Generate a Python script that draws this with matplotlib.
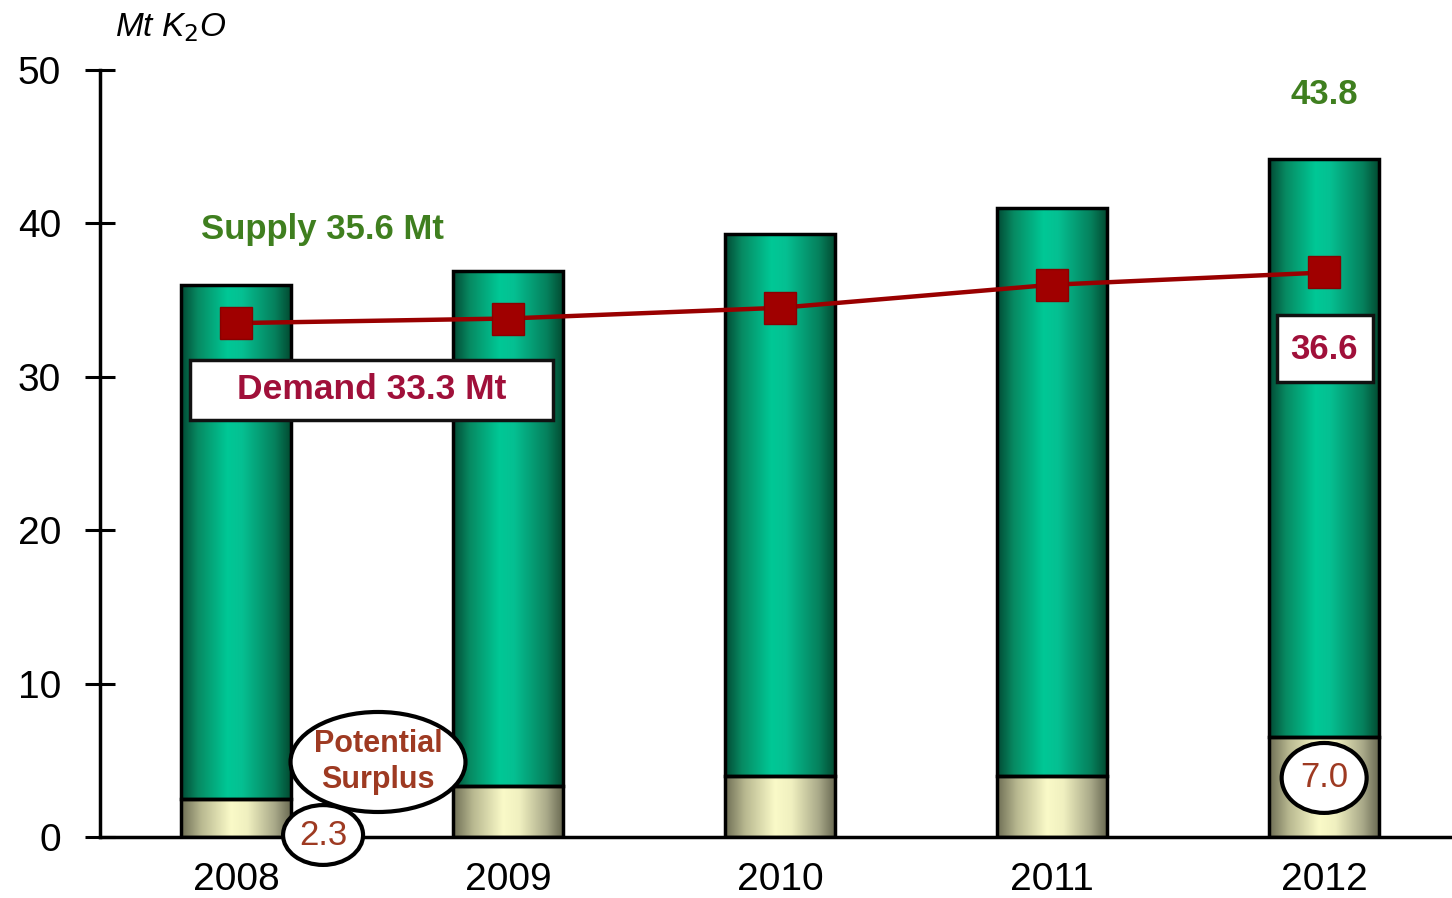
import numpy as np
import matplotlib
matplotlib.use("Agg")
import matplotlib.pyplot as plt
from matplotlib.patches import Rectangle, Ellipse
from matplotlib.colors import LinearSegmentedColormap

years = ["2008", "2009", "2010", "2011", "2012"]
supply = [36.0, 36.9, 39.3, 41.0, 44.2]
demand = [33.5, 33.8, 34.5, 36.0, 36.8]
surplus = [2.5, 3.3, 4.0, 4.0, 6.5]
yticks = [0, 10, 20, 30, 40, 50]

plt.rcParams['font.family'] = ['Liberation Sans', 'DejaVu Sans']

fig = plt.figure(figsize=(14.52, 8.98), dpi=100)
ax = fig.add_axes([100/1452, 1-837/898, 1-100/1452, (837-70)/898])

x = np.arange(len(years))
w = 0.405

green_cmap = LinearSegmentedColormap.from_list(
    "g", [(0.0, "#024a34"), (0.15, "#078a62"), (0.42, "#00c896"), (0.55, "#05c092"), (0.85, "#06805c"), (1.0, "#02482f")])
cream_cmap = LinearSegmentedColormap.from_list(
    "c", [(0.0, "#6e6e55"), (0.18, "#b8b890"), (0.45, "#fafac8"), (0.6, "#f0f0c0"), (0.85, "#a8a888"), (1.0, "#66664f")])
grad = np.linspace(0, 1, 256).reshape(1, -1)

green_bars = ax.bar(x, np.array(supply) - np.array(surplus), w, bottom=surplus,
                    facecolor="none", edgecolor="black", linewidth=2.5, zorder=3)
cream_bars = ax.bar(x, surplus, w, facecolor="none", edgecolor="black", linewidth=2.5, zorder=3)

for bars, cmap in ((green_bars, green_cmap), (cream_bars, cream_cmap)):
    for r in bars:
        x0, y0 = r.get_x(), r.get_y()
        im = ax.imshow(grad, cmap=cmap, aspect="auto", zorder=2,
                       extent=[x0, x0 + r.get_width(), y0, y0 + r.get_height()],
                       interpolation="bicubic")
        im.set_clip_path(r)

ax.plot(x, demand, color="#990000", linewidth=3.2, marker="s", markersize=23,
        markerfacecolor="#a00000", markeredgecolor="#8a0000", zorder=5)

ax.set_xlim(-0.5, 4.47)
ax.set_ylim(0, 50)
ax.set_xticks(x)
ax.set_xticklabels(years)
ax.set_yticks(yticks)
ax.tick_params(axis="y", direction="inout", length=22, width=2.2, labelsize=28, pad=17)
ax.tick_params(axis="x", length=0, labelsize=28, pad=18)
for s in ("top", "right"):
    ax.spines[s].set_visible(False)
for s in ("left", "bottom"):
    ax.spines[s].set_linewidth(2.5)
ax.spines["left"].set_zorder(6)

# Unit label
fig.text(115/1452, 1-28/898, r"Mt K$_{\mathit{2}}$O", fontsize=24, style="italic",
         va="center", ha="left")

# Supply labels
ax.text(0.316, 39.6, "Supply 35.6 Mt", color="#3f7f1f", fontsize=25, fontweight="bold",
        ha="center", va="center")
ax.text(4.0, 48.4, "43.8", color="#3f7f1f", fontsize=25, fontweight="bold",
        ha="center", va="center")

# Demand label boxes
ax.add_patch(Rectangle((-0.17, 27.2), 1.335, 3.9, facecolor="white", edgecolor="#111111",
                       linewidth=2.5, zorder=7))
ax.text(0.497, 29.15, "Demand 33.3 Mt", color="#a0103a", fontsize=25.5, fontweight="bold",
        ha="center", va="center", zorder=8)
ax.add_patch(Rectangle((3.827, 29.66), 0.353, 4.34, facecolor="white", edgecolor="#111111",
                       linewidth=2.5, zorder=7))
ax.text(4.0, 31.8, "36.6", color="#a0103a", fontsize=25, fontweight="bold",
        ha="center", va="center", zorder=8)

# Surplus ellipses
ax.add_patch(Ellipse((0.522, 4.89), 0.643, 6.52, facecolor="white", edgecolor="black",
                     linewidth=3, zorder=7, clip_on=False))
ax.text(0.522, 4.9, "Potential\nSurplus", color="#9e3a22", fontsize=22, fontweight="bold",
        ha="center", va="center", linespacing=1.25, zorder=8)
ax.add_patch(Ellipse((0.32, 0.13), 0.294, 3.9, facecolor="white", edgecolor="black",
                     linewidth=3, zorder=7, clip_on=False))
ax.text(0.32, 0.13, "2.3", color="#9e3a22", fontsize=25,
        ha="center", va="center", zorder=8, clip_on=False)
ax.add_patch(Ellipse((4.0, 3.85), 0.3125, 4.56, facecolor="white", edgecolor="black",
                     linewidth=3, zorder=7))
ax.text(4.0, 3.85, "7.0", color="#9e3a22", fontsize=25,
        ha="center", va="center", zorder=8)

fig.savefig("out.png", dpi=100)
